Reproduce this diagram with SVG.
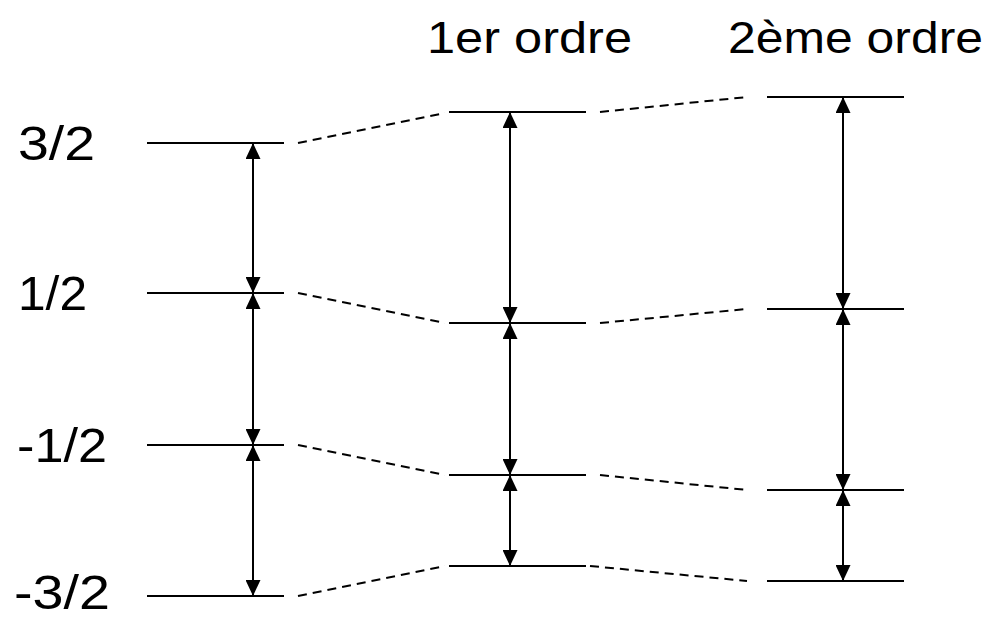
<svg xmlns="http://www.w3.org/2000/svg" width="990" height="621" viewBox="0 0 990 621">
<style>
.lvl{stroke:#000;stroke-width:2;fill:none}
.dash{stroke:#000;stroke-width:2;fill:none;stroke-dasharray:9,6}
.arr{stroke:#000;stroke-width:2;fill:none;marker-start:url(#ah);marker-end:url(#ah)}
text{font-family:"Liberation Sans","DejaVu Sans",sans-serif;fill:#000}
.lab{font-size:48px}
.hdr{font-size:44px}
</style>
<defs>
<marker id="ah" viewBox="0 0 16 15" markerUnits="userSpaceOnUse" markerWidth="16" markerHeight="15" refX="16" refY="7.5" orient="auto-start-reverse">
<path d="M0,0 L16,7.5 L0,15 z" fill="#000"/>
</marker>
</defs>
<rect width="990" height="621" fill="#fff"/>
<g id="headers">
<text class="hdr" x="427" y="53" textLength="205" lengthAdjust="spacingAndGlyphs">1er ordre</text>
<text class="hdr" x="728" y="53" textLength="255" lengthAdjust="spacingAndGlyphs">2ème ordre</text>
</g>
<g id="labels">
<text class="lab" x="18" y="160" textLength="77" lengthAdjust="spacingAndGlyphs">3/2</text>
<text class="lab" x="18" y="310" textLength="69" lengthAdjust="spacingAndGlyphs">1/2</text>
<text class="lab" x="17" y="462" textLength="90" lengthAdjust="spacingAndGlyphs">-1/2</text>
<text class="lab" x="14" y="609" textLength="96" lengthAdjust="spacingAndGlyphs">-3/2</text>
</g>
<g id="level-col0">
<line class="lvl" x1="147" y1="143" x2="284" y2="143"/>
<line class="lvl" x1="147" y1="293" x2="284" y2="293"/>
<line class="lvl" x1="147" y1="445" x2="284" y2="445"/>
<line class="lvl" x1="147" y1="596" x2="284" y2="596"/>
</g>
<g id="level-col1">
<line class="lvl" x1="449" y1="112" x2="586" y2="112"/>
<line class="lvl" x1="449" y1="323" x2="586" y2="323"/>
<line class="lvl" x1="449" y1="475" x2="586" y2="475"/>
<line class="lvl" x1="449" y1="566" x2="586" y2="566"/>
</g>
<g id="level-col2">
<line class="lvl" x1="767" y1="97" x2="904" y2="97"/>
<line class="lvl" x1="767" y1="309" x2="904" y2="309"/>
<line class="lvl" x1="767" y1="490" x2="904" y2="490"/>
<line class="lvl" x1="767" y1="581" x2="904" y2="581"/>
</g>
<g id="connectors">
<line class="dash" x1="298" y1="143" x2="445" y2="113"/>
<line class="dash" x1="298" y1="293" x2="445" y2="323"/>
<line class="dash" x1="298" y1="445" x2="445" y2="475"/>
<line class="dash" x1="298" y1="596" x2="445" y2="566"/>
<line class="dash" x1="600" y1="112" x2="747" y2="97"/>
<line class="dash" x1="600" y1="323" x2="747" y2="309"/>
<line class="dash" x1="600" y1="475" x2="747" y2="490"/>
<line class="dash" x1="590" y1="566" x2="747" y2="581"/>
<line class="arr" x1="253" y1="143" x2="253" y2="293"/>
<line class="arr" x1="253" y1="293" x2="253" y2="445"/>
<line class="arr" x1="253" y1="445" x2="253" y2="596"/>
<line class="arr" x1="510" y1="112" x2="510" y2="323"/>
<line class="arr" x1="510" y1="323" x2="510" y2="475"/>
<line class="arr" x1="510" y1="475" x2="510" y2="566"/>
<line class="arr" x1="843" y1="97" x2="843" y2="309"/>
<line class="arr" x1="843" y1="309" x2="843" y2="490"/>
<line class="arr" x1="843" y1="490" x2="843" y2="581"/>
</g>
</svg>
